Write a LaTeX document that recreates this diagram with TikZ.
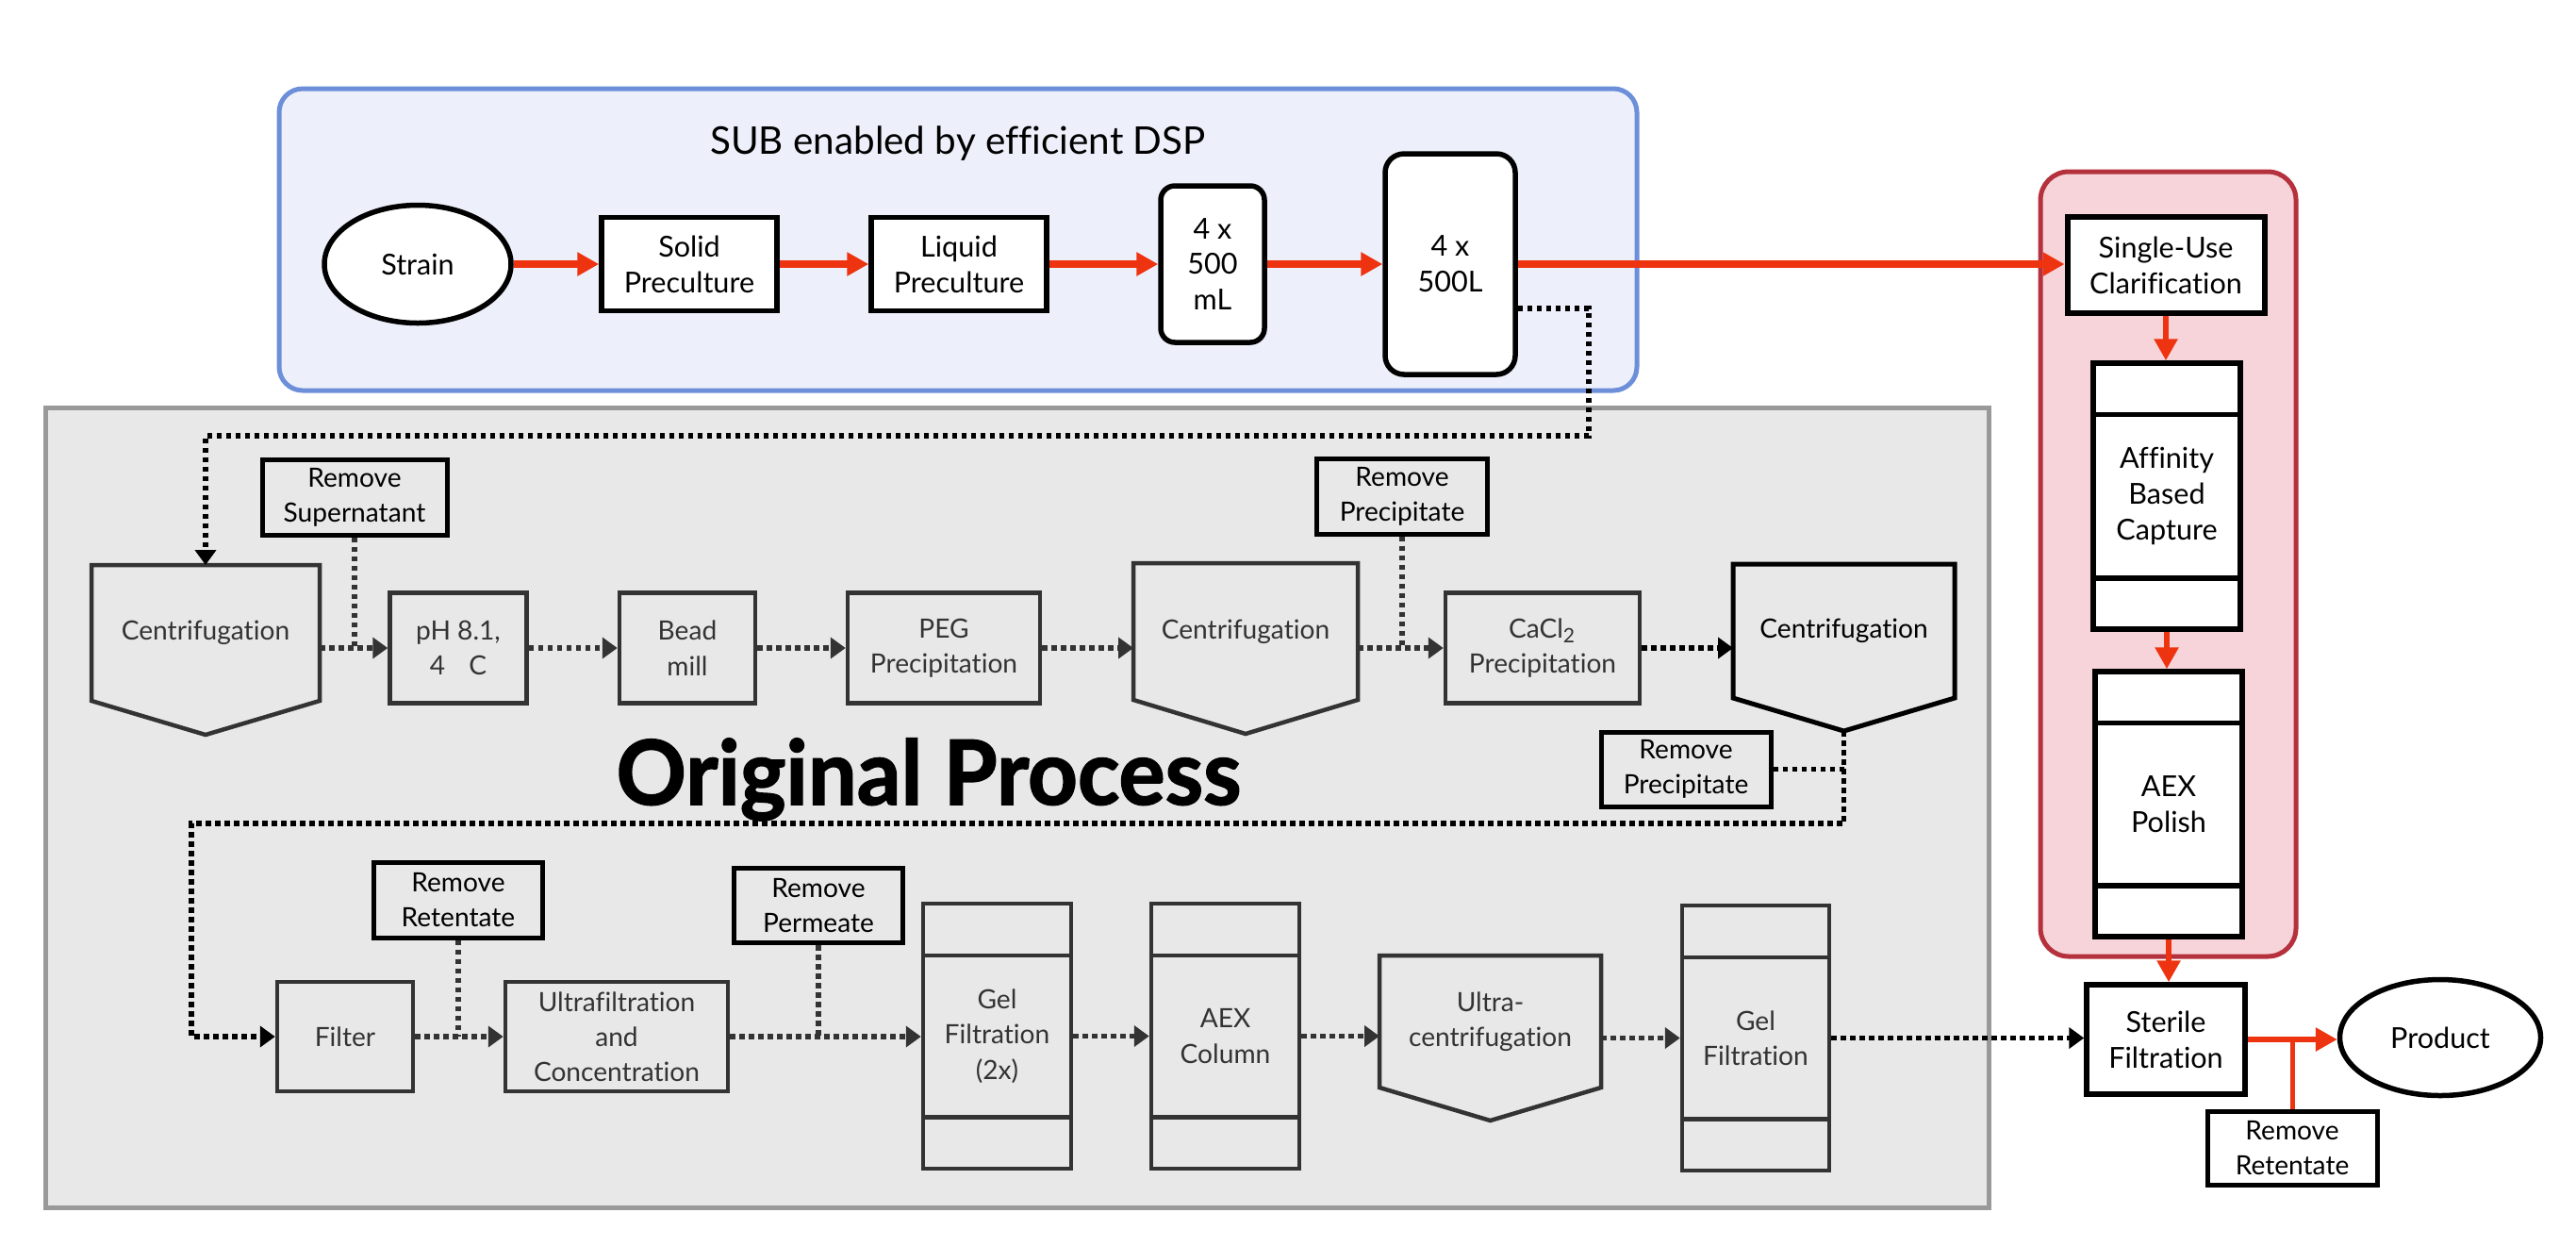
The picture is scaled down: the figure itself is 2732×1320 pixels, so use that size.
\documentclass[tikz,border=0pt]{standalone}
\usepackage{fontspec}
\setmainfont{Lato}[Ligatures=NoCommon]
\newfontfamily\heavyfont{Lato}[BoldFeatures={FakeBold=1.6}, FakeStretch=0.97]
\usetikzlibrary{arrows.meta,shapes.geometric}

\definecolor{redline}{HTML}{EE3311}
\definecolor{bluefill}{HTML}{EDF0FA}
\definecolor{blueline}{HTML}{6D8FD9}
\definecolor{grayfill}{HTML}{E8E8E8}
\definecolor{grayframe}{HTML}{999999}
\definecolor{redfill}{HTML}{F7D4D9}
\definecolor{redframe}{HTML}{B4313D}
\definecolor{gline}{HTML}{333333}

\newcommand\fsmall{\fontsize{8}{10.6}\selectfont}
\newcommand\fbig{\fontsize{8.7}{10.8}\selectfont}

\tikzset{
  gproc/.style={rectangle, draw=gline, fill=grayfill, line width=0.45mm, text=gline,
    font=\fsmall, align=center, inner sep=0pt},
  rembox/.style={rectangle, draw=black, fill=grayfill, line width=0.5mm, text=black,
    font=\fsmall, align=center, inner sep=0pt},
  wproc/.style={rectangle, draw=black, fill=white, line width=0.55mm, text=black,
    font=\fbig, align=center, inner sep=0pt},
  cshape/.style={rectangle, draw=none, inner sep=0pt, outer sep=0pt, align=center,
    font=\fsmall, text=gline},
  cline/.style={draw=gline, line width=0.45mm},
  dotline/.style={line width=0.55mm, dash pattern=on 0.55mm off 0.45mm, draw=gline},
  dotarrow/.style={dotline, -{Triangle[length=1.6mm,width=2.2mm]}},
  redarrow/.style={draw=redline, line width=0.75mm, -{Triangle[length=2.3mm,width=2.4mm]}},
}

\begin{document}
\begin{tikzpicture}[x=0.1mm, y=-0.1mm]
\useasboundingbox (0,0) rectangle (2732,1320);

% ---------- background regions ----------
\fill[bluefill, draw=blueline, line width=0.5mm, rounded corners=2.5mm]
  (296,94) rectangle (1736,414);
\fill[grayfill, draw=grayframe, line width=0.5mm] (48,432) rectangle (2109,1280);
\fill[redfill, draw=redframe, line width=0.5mm, rounded corners=3mm]
  (2164,182) rectangle (2435,1014);

% ---------- single-use upstream ----------
\node[anchor=base, font=\fontsize{11.5}{13}\selectfont] (subtitle) at (1016,163)
  {SUB enabled by efficient DSP};
\node[ellipse, draw=black, fill=white, line width=0.55mm, inner sep=0pt,
  minimum width=19.8mm, minimum height=12.5mm, font=\fbig] (strain) at (443,280) {Strain};
\node[wproc, minimum width=18.6mm, minimum height=9.9mm] (solid) at (731,280) {Solid\\Preculture};
\node[wproc, minimum width=18.6mm, minimum height=9.9mm] (liquid) at (1017,280) {Liquid\\Preculture};
\node[wproc, rounded corners=1.5mm, minimum width=11mm, minimum height=16.6mm] (ml) at (1286,280) {4 x\\500\\mL};
\node[wproc, rounded corners=2mm, minimum width=13.8mm, minimum height=23.4mm] (big) at (1538,280) {4 x\\500L};

% ---------- single-use downstream ----------
\node[wproc, line width=0.6mm, minimum width=20.9mm, minimum height=10.2mm] (su) at (2297,281) {Single-Use\\Clarification};
\node[wproc, minimum width=15.6mm, minimum height=28.2mm] (aff) at (2298,526) {Affinity\\Based\\Capture};
\node[wproc, minimum width=15.6mm, minimum height=28.1mm] (pol) at (2300,852.5) {AEX\\Polish};
\foreach \c in {aff,pol}{
  \draw[line width=0.55mm] ([yshift=-5.7mm]\c.north west) -- ([yshift=-5.7mm]\c.north east);
  \draw[line width=0.55mm] ([yshift=5.7mm]\c.south west) -- ([yshift=5.7mm]\c.south east);
}
\node[wproc, minimum width=16.8mm, minimum height=11.6mm] (ster) at (2297,1102) {Sterile\\Filtration};
\node[ellipse, draw=black, fill=white, line width=0.55mm, inner sep=0pt,
  minimum width=21.3mm, minimum height=12.3mm, font=\fbig] (prod) at (2588,1100) {Product};
\node[wproc, font=\fsmall, line width=0.5mm, minimum width=18mm, minimum height=7.8mm] (remR) at (2431,1217) {Remove\\Retentate};

% ---------- original process, first row ----------
\node[cshape, minimum width=24.2mm, minimum height=14.4mm] (c1) at (218,671) {Centrifugation};
\draw[cline] (c1.north west) -- (c1.north east) -- (c1.south east)
  -- ([yshift=-3.6mm]c1.south) -- (c1.south west) -- cycle;
\node[rembox, minimum width=19.6mm, minimum height=8mm] (remSup) at (376,527) {Remove\\Supernatant};
\node[gproc, minimum width=14.5mm, minimum height=11.7mm] (ph) at (486,687) {pH 8.1,\\4\hspace{0.9em}C};
\node[gproc, minimum width=14.4mm, minimum height=11.7mm] (bead) at (729,687) {Bead\\mill};
\node[gproc, minimum width=20.4mm, minimum height=11.7mm] (peg) at (1001,687) {PEG\\Precipitation};
\node[cshape, minimum width=23.8mm, minimum height=14.5mm] (c2) at (1321,669.5) {Centrifugation};
\draw[cline] (c2.north west) -- (c2.north east) -- (c2.south east)
  -- ([yshift=-3.6mm]c2.south) -- (c2.south west) -- cycle;
\node[rembox, minimum width=18.1mm, minimum height=8mm] (remP1) at (1487,526) {Remove\\Precipitate};
\node[gproc, minimum width=20.6mm, minimum height=11.7mm] (cacl) at (1636,687) {CaCl\textsubscript{2}\\Precipitation};
\node[cshape, text=black, minimum width=23.5mm, minimum height=14.2mm] (c3) at (1955.5,669) {Centrifugation};
\draw[line width=0.5mm] (c3.north west) -- (c3.north east) -- (c3.south east)
  -- ([yshift=-3.5mm]c3.south) -- (c3.south west) -- cycle;
\coordinate (c3tip) at ([yshift=-3.5mm]c3.south);
\node[rembox, minimum width=18mm, minimum height=7.9mm] (remP2) at (1788,815.5) {Remove\\Precipitate};

\node[anchor=base, font=\heavyfont\fontsize{27}{30}\selectfont\bfseries] (orig) at (985,853) {Original Process};

% ---------- original process, second row ----------
\node[rembox, minimum width=17.9mm, minimum height=8mm] (remRet) at (486,954) {Remove\\Retentate};
\node[gproc, minimum width=14.4mm, minimum height=11.6mm] (filt) at (366,1099) {Filter};
\node[gproc, minimum width=23.6mm, minimum height=11.6mm] (uf) at (654,1099) {Ultrafiltration\\and\\Concentration};
\node[rembox, minimum width=17.9mm, minimum height=7.9mm] (remPerm) at (868,960) {Remove\\Permeate};
\node[gproc, minimum width=15.7mm, minimum height=28.1mm] (gel1) at (1057.5,1098.5) {Gel\\Filtration\\(2x)};
\node[gproc, minimum width=15.7mm, minimum height=28.1mm] (aex) at (1299.5,1098.5) {AEX\\Column};
\node[cshape, minimum width=23.5mm, minimum height=14mm] (uc) at (1580.5,1083) {Ultra-\\centrifugation};
\draw[cline] (uc.north west) -- (uc.north east) -- (uc.south east)
  -- ([yshift=-3.5mm]uc.south) -- (uc.south west) -- cycle;
\node[gproc, minimum width=15.6mm, minimum height=28.1mm] (gel2) at (1862,1100.5) {Gel\\Filtration};
\foreach \c in {gel1,aex,gel2}{
  \draw[cline] ([yshift=-5.7mm]\c.north west) -- ([yshift=-5.7mm]\c.north east);
  \draw[cline] ([yshift=5.7mm]\c.south west) -- ([yshift=5.7mm]\c.south east);
}

% ---------- single-use flow ----------
\draw[redarrow] (strain.east) -- (solid.west);
\draw[redarrow] (solid.east) -- (liquid.west);
\draw[redarrow] (liquid.east) -- (ml.west);
\draw[redarrow] (ml.east) -- (big.west);
\draw[redarrow] (big.east) -- (big.east -| su.west);
\draw[redarrow, line width=0.6mm] (su.south) -- (su.south |- aff.north);
\draw[redarrow, line width=0.6mm] (aff.south) -- (aff.south |- pol.north);
\draw[redarrow, line width=0.6mm] (pol.south) -- (pol.south |- ster.north);
\draw[redarrow, line width=0.65mm] (ster.east) -- (ster.east -| prod.west);
\draw[draw=redline, line width=0.5mm] (remR.north) -- (remR.north |- ster.east);

% ---------- original process flow ----------
\coordinate (bendA) at (1685,327);
\coordinate (bendB) at (1685,462);
\coordinate (bendC) at (203,873);
\draw[dotarrow, draw=black] (big.east |- bendA) -- (bendA) -- (bendB) -| (c1.north);
\draw[dotline] (remSup.south) -- (remSup.south |- ph.west);
\draw[dotarrow] (c1.east |- ph.west) -- (ph.west);
\draw[dotarrow] (ph.east) -- (bead.west);
\draw[dotarrow] (bead.east) -- (peg.west);
\draw[dotarrow] (peg.east) -- (peg.east -| c2.west);
\draw[dotline] (remP1.south) -- (remP1.south |- cacl.west);
\draw[dotarrow] (c2.east |- cacl.west) -- (cacl.west);
\draw[dotarrow, draw=black] (cacl.east) -- (cacl.east -| c3.west);
\draw[dotline, draw=black] (remP2.east) -- (remP2.east -| c3tip);
\draw[dotarrow, draw=black] (c3tip) |- (bendC) |- (filt.west);
\draw[dotline] (remRet.south) -- (remRet.south |- filt.east);
\draw[dotarrow] (filt.east) -- (uf.west);
\draw[dotline] (remPerm.south) -- (remPerm.south |- uf.east);
\draw[dotarrow] (uf.east) -- (uf.east -| gel1.west);
\draw[dotarrow] (gel1.east) -- (aex.west);
\draw[dotarrow] (aex.east) -- (aex.east -| uc.west);
\draw[dotarrow] (uc.east |- gel2.west) -- (gel2.west);
\draw[dotarrow, draw=black] (gel2.east) -- (gel2.east -| ster.west);
\end{tikzpicture}
\end{document}
